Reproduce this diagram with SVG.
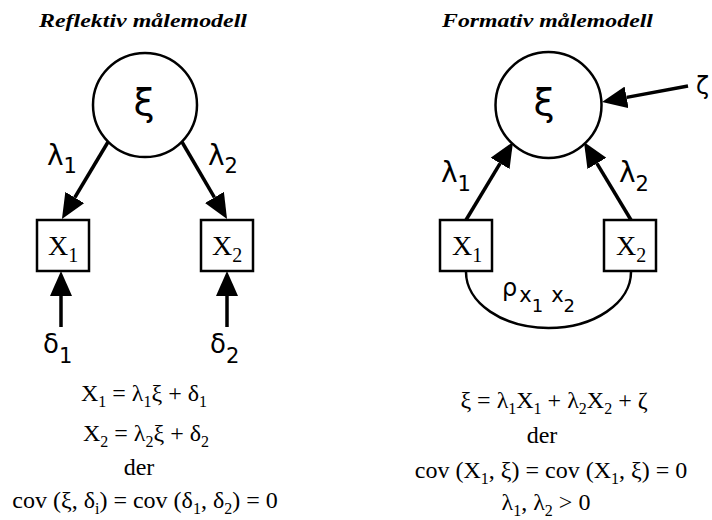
<svg xmlns="http://www.w3.org/2000/svg" width="712" height="520" viewBox="0 0 712 520">
<style>
.title{font-family:"Liberation Serif",serif;font-weight:bold;font-style:italic;font-size:19px;fill:#000}
.gk{font-family:"DejaVu Sans",sans-serif;fill:#000}
.bx{font-family:"Liberation Serif",serif;fill:#000}
.eq{font-family:"Liberation Serif",serif;font-size:24px;fill:#000}
.sub{font-size:16px}
.node{fill:#fff;stroke:#000;stroke-width:2.5}
.edge{fill:none;stroke:#000;stroke-width:3.5}
.curve{fill:none;stroke:#000;stroke-width:2.5}
</style>
<defs>
<marker id="ah" viewBox="0 0 25 22" refX="0" refY="11" markerWidth="25" markerHeight="22" markerUnits="userSpaceOnUse" orient="auto">
<path d="M0,0 L25,11 L0,22 z" fill="#000"/>
</marker>
</defs>
<rect width="712" height="520" fill="#fff"/>

<text class="title" x="39" y="27" textLength="208" lengthAdjust="spacingAndGlyphs">Reflektiv målemodell</text>
<text class="title" x="442" y="27" textLength="211" lengthAdjust="spacingAndGlyphs">Formativ målemodell</text>

<g id="connectors">
<line class="edge" x1="108" y1="142" x2="74.8" y2="197.5" marker-end="url(#ah)"/>
<line class="edge" x1="182" y1="142" x2="214.4" y2="197.4" marker-end="url(#ah)"/>
<line class="edge" x1="61" y1="327" x2="61" y2="296" marker-end="url(#ah)"/>
<line class="edge" x1="227" y1="327" x2="227" y2="296" marker-end="url(#ah)"/>
<line class="edge" x1="466" y1="220" x2="500.1" y2="163.4" marker-end="url(#ah)"/>
<line class="edge" x1="631" y1="220" x2="596.9" y2="163.4" marker-end="url(#ah)"/>
<line class="edge" x1="688" y1="86" x2="626.6" y2="97.4" marker-end="url(#ah)"/>
<path class="curve" d="M466,272 A82.5,56 0 0 0 631,272"/>
</g>

<g id="xi-reflective">
<circle class="node" cx="145" cy="105" r="52"/>
<text class="gk" x="144" y="115" font-size="38" text-anchor="middle">ξ</text>
</g>
<g id="x1-reflective">
<rect class="node" x="37" y="220" width="52" height="51"/>
<text class="bx" x="48" y="255" font-size="28">X<tspan dy="7" font-size="20">1</tspan></text>
</g>
<g id="x2-reflective">
<rect class="node" x="201" y="220" width="52" height="51"/>
<text class="bx" x="212" y="255" font-size="28">X<tspan dy="7" font-size="20">2</tspan></text>
</g>

<g id="xi-formative">
<circle class="node" cx="548.5" cy="105" r="53"/>
<text class="gk" x="544" y="115" font-size="38" text-anchor="middle">ξ</text>
</g>
<g id="x1-formative">
<rect class="node" x="440" y="220" width="52" height="51"/>
<text class="bx" x="452" y="255" font-size="28">X<tspan dy="7" font-size="20">1</tspan></text>
</g>
<g id="x2-formative">
<rect class="node" x="604" y="220" width="52" height="51"/>
<text class="bx" x="616" y="255" font-size="28">X<tspan dy="7" font-size="20">2</tspan></text>
</g>

<g id="labels">
<text class="gk" x="47" y="165" font-size="28">λ<tspan dy="8" font-size="21">1</tspan></text>
<text class="gk" x="208" y="165" font-size="28">λ<tspan dy="8" font-size="21">2</tspan></text>
<text class="gk" x="43" y="353" font-size="26">δ<tspan dy="10" font-size="21">1</tspan></text>
<text class="gk" x="210" y="353" font-size="26">δ<tspan dy="10" font-size="21">2</tspan></text>
<text class="gk" x="441" y="182" font-size="28">λ<tspan dy="9" font-size="21">1</tspan></text>
<text class="gk" x="619" y="182" font-size="28">λ<tspan dy="9" font-size="21">2</tspan></text>
<text class="gk" x="696" y="94" font-size="24">ζ</text>
<text class="gk" x="502" y="296" font-size="24">ρ<tspan font-size="21" dx="2" dy="6">x</tspan><tspan font-size="18" dy="10">1</tspan><tspan font-size="21" dx="8" dy="-10">x</tspan><tspan font-size="18" dy="10">2</tspan></text>
</g>

<g id="equations-reflective">
<text class="eq" x="144" y="401" text-anchor="middle">X<tspan class="sub" dy="6">1</tspan><tspan dy="-6"> =  λ</tspan><tspan class="sub" dy="6">1</tspan><tspan dy="-6">ξ + δ</tspan><tspan class="sub" dy="6">1</tspan></text>
<text class="eq" x="146" y="441" text-anchor="middle">X<tspan class="sub" dy="6">2</tspan><tspan dy="-6"> =  λ</tspan><tspan class="sub" dy="6">2</tspan><tspan dy="-6">ξ + δ</tspan><tspan class="sub" dy="6">2</tspan></text>
<text class="eq" x="139" y="475" text-anchor="middle">der</text>
<text class="eq" x="145" y="508" text-anchor="middle">cov (ξ, δ<tspan class="sub" dy="6">i</tspan><tspan dy="-6">) = cov (δ</tspan><tspan class="sub" dy="6">1</tspan><tspan dy="-6">, δ</tspan><tspan class="sub" dy="6">2</tspan><tspan dy="-6">) = 0</tspan></text>
</g>

<g id="equations-formative">
<text class="eq" x="554" y="408" text-anchor="middle">ξ = λ<tspan class="sub" dy="6">1</tspan><tspan dy="-6">X</tspan><tspan class="sub" dy="6">1</tspan><tspan dy="-6"> + λ</tspan><tspan class="sub" dy="6">2</tspan><tspan dy="-6">X</tspan><tspan class="sub" dy="6">2</tspan><tspan dy="-6"> + ζ</tspan></text>
<text class="eq" x="542" y="443" text-anchor="middle">der</text>
<text class="eq" x="551" y="478" text-anchor="middle">cov (X<tspan class="sub" dy="6">1</tspan><tspan dy="-6">, ξ) = cov (X</tspan><tspan class="sub" dy="6">1</tspan><tspan dy="-6">, ξ) = 0</tspan></text>
<text class="eq" x="546" y="510" text-anchor="middle">λ<tspan class="sub" dy="6">1</tspan><tspan dy="-6">, λ</tspan><tspan class="sub" dy="6">2</tspan><tspan dy="-6"> &gt; 0</tspan></text>
</g>
</svg>
